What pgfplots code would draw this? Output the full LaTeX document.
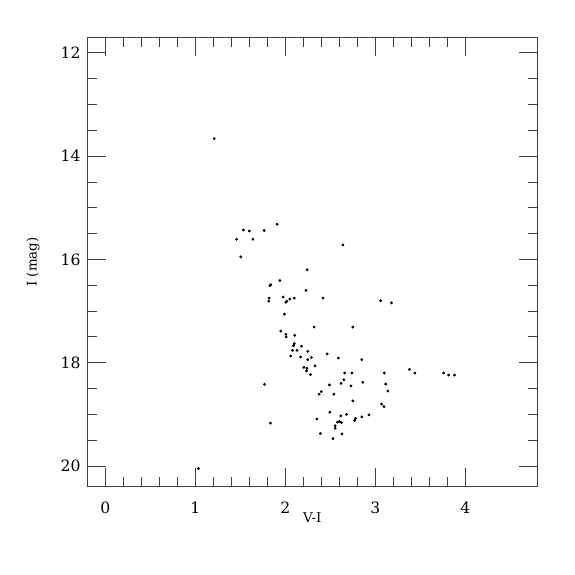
\documentclass[border=0pt]{standalone}
\usepackage{fontspec}
\setmainfont{DejaVu Serif}
\usepackage{pgfplots}
\pgfplotsset{compat=1.18}
\begin{document}
\begin{tikzpicture}
\useasboundingbox (-65.5pt,-66.2pt) rectangle (365.8pt,365pt);
\begin{axis}[
  at={(0,0)}, anchor=south west,
  scale only axis,
  width=337.5pt, height=337pt,
  xmin=-0.2, xmax=4.8,
  ymin=11.7, ymax=20.4,
  y dir=reverse,
  xtick={0,1,2,3,4},
  ytick={12,14,16,18,20},
  minor x tick num=4,
  minor y tick num=3,
  tick align=inside,
  xtick pos=both, ytick pos=both,
  xticklabel pos=lower, yticklabel pos=left,
  major tick length=14pt,
  minor tick length=7pt,
  every tick/.style={black!75, line width=0.6pt},
  axis line style={black!75, line width=0.7pt},
  /pgf/number format/assume math mode=true,
  tick label style={font=\fontsize{11.7}{14}\selectfont},
  xticklabel style={yshift=-8.1pt},
  yticklabel style={xshift=-1.6pt},
  xlabel={V-I}, ylabel={I (mag)},
  label style={font=\fontsize{10}{12}\selectfont},
  x label style={at={(axis description cs:0.5,0)}, anchor=center, yshift=-23.5pt},
  y label style={at={(axis description cs:0,0.5)}, anchor=center, yshift=40.7pt},
]
\addplot[only marks, mark=*, mark size=0.85pt, black] coordinates {
(1.21,13.66) (1.91,15.32) (1.535,15.43) (1.60,15.45) (1.765,15.44)
(1.46,15.61) (1.64,15.61) (1.505,15.95) (2.64,15.72)
(2.243,16.20) (1.94,16.41) (1.84,16.49) (1.83,16.51) (2.23,16.60)
(1.82,16.75) (1.816,16.81) (1.976,16.73) (2.05,16.77) (2.10,16.75)
(2.017,16.81) (2.006,16.83) (2.42,16.75) (1.99,17.06) (2.32,17.31)
(2.75,17.31) (1.95,17.39) (2.006,17.45) (2.01,17.50) (2.105,17.47)
(2.10,17.63) (2.09,17.67) (2.18,17.68) (2.08,17.76) (2.13,17.76)
(2.25,17.78) (2.06,17.87) (2.17,17.89) (2.29,17.90) (2.25,17.94)
(2.465,17.83) (2.59,17.91) (2.85,17.94) (2.206,18.09) (2.24,18.11)
(2.33,18.06) (2.236,18.16) (2.28,18.23) (2.66,18.20) (2.74,18.20)
(2.65,18.33) (2.62,18.40) (2.86,18.38) (2.73,18.45) (2.49,18.43)
(1.77,18.42) (3.10,18.20) (3.115,18.415) (3.14,18.55) (2.40,18.56)
(2.376,18.61) (2.54,18.61) (2.75,18.74) (3.07,18.80) (3.096,18.85)
(2.495,18.96) (2.68,19.00) (2.93,19.01) (2.617,19.03) (2.85,19.05)
(2.78,19.08) (2.77,19.12) (2.35,19.09) (2.60,19.14) (2.58,19.15)
(2.625,19.16) (2.554,19.22) (2.554,19.27) (1.835,19.17) (2.39,19.37)
(2.63,19.38) (2.53,19.47) (3.06,16.80) (3.18,16.84) (3.38,18.13)
(3.44,18.20) (3.76,18.20) (3.815,18.24) (3.88,18.24) (1.034,20.05)
};
\end{axis}
\end{tikzpicture}
\end{document}
